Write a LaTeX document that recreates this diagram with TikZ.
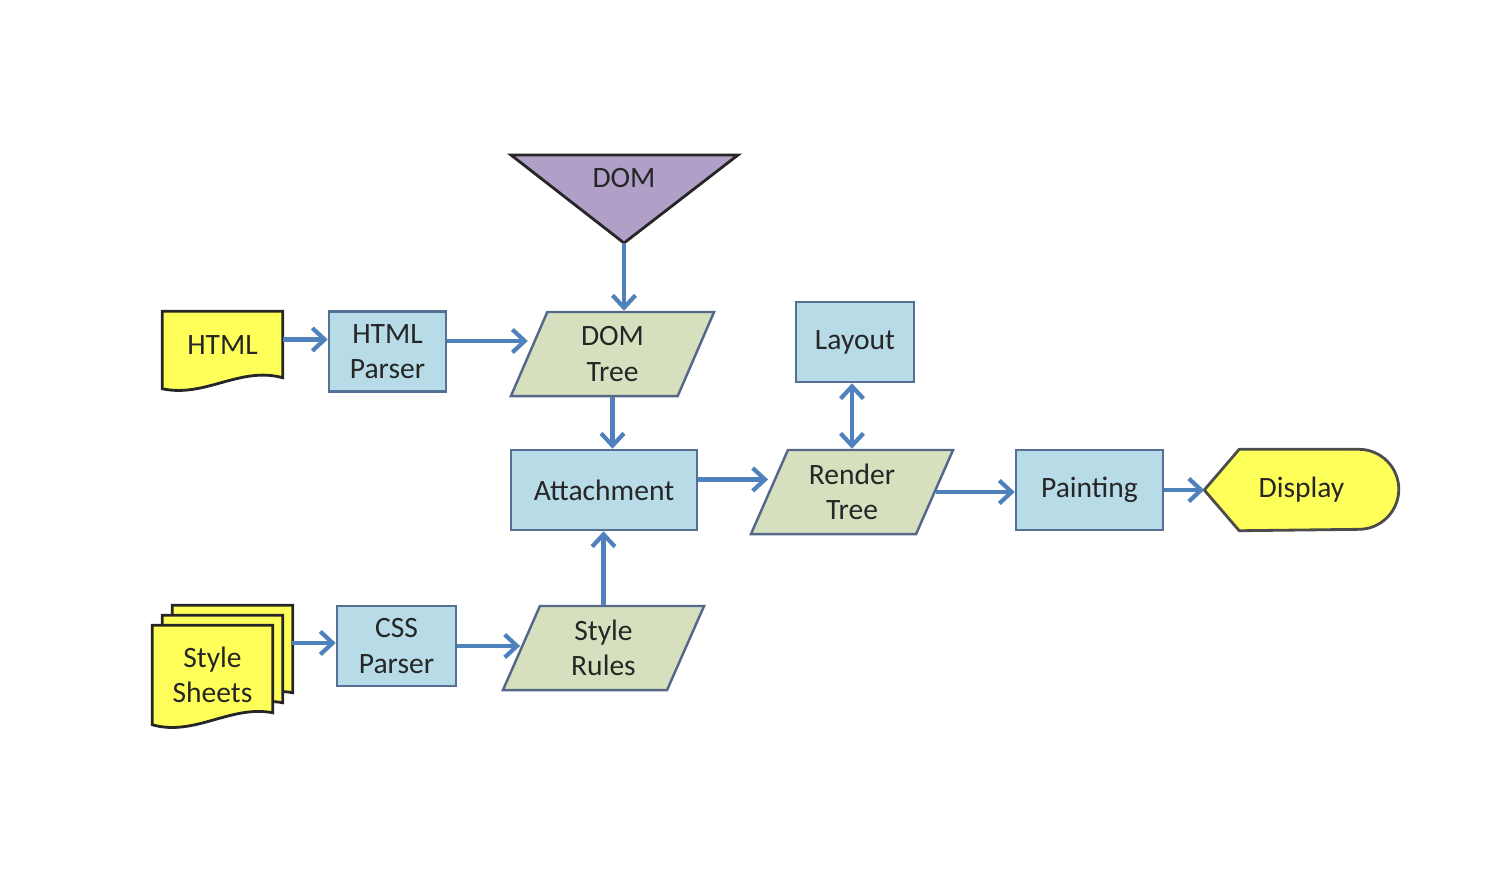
\documentclass[tikz,border=0pt]{standalone}
\usepackage{fontspec}
\setmainfont{Carlito}
\usetikzlibrary{shapes, arrows.meta, positioning, calc}
\definecolor{flowblue}{RGB}{79,129,189}
\definecolor{procfill}{RGB}{183,219,231}
\definecolor{procline}{RGB}{84,112,148}
\definecolor{datafill}{RGB}{215,224,190}
\definecolor{dataline}{RGB}{86,104,138}
\definecolor{docfill}{RGB}{255,255,90}
\definecolor{domfill}{RGB}{176,160,200}

\begin{document}
\begin{tikzpicture}[x=0.01cm, y=-0.01cm,
  every node/.style={font=\fontsize{8.4}{10}\selectfont, align=center, text=black!85},
  procbox/.style={draw=procline, fill=procfill, line width=0.7pt, minimum width=1.17cm, minimum height=0.8cm},
  databox/.style={trapezium, trapezium left angle=65, trapezium right angle=115, trapezium stretches body,
    draw=dataline, fill=datafill, line width=0.7pt, minimum width=2cm, minimum height=0.84cm},
  docline/.style={draw=black!85, fill=docfill, line width=0.8pt},
  >={Straight Barb[length=3.5pt, width=6.5pt]},
  flow/.style={draw=flowblue, line width=1.2pt, ->}]
  \useasboundingbox (0,0) rectangle (1502,890);

  % DOM triangle
  \coordinate (domtip) at (624,243);
  \draw[fill=domfill, draw=black!85, line width=0.8pt] (511,155) -- (738,155) -- (domtip) -- cycle;
  \node (dom) at (624,178) {DOM};

  % documents
  \node[minimum width=1.19cm, minimum height=0.76cm] (html) at (222.5,350) {};
  \draw[docline] (html.north west) -- (html.north east) -- ($(html.south east)+(0,-11)$)
    .. controls (240,366) and (205,398) .. (html.south west) -- cycle;
  \node at ([yshift=1.4pt]html) {HTML};

  \node[minimum width=1.19cm, minimum height=0.98cm] (sheets) at (212.5,675) {};
  \foreach \d in {20,10,0}
    \draw[docline] ($(sheets.north west)+(\d,-\d)$) -- ($(sheets.north east)+(\d,-\d)$)
      -- ($(sheets.south east)+(\d,-\d-12)$)
      .. controls ($(sheets.south)+(\d+18,-\d-20)$) and ($(sheets.south)+(\d-18,-\d+12)$) ..
      ($(sheets.south west)+(\d,-\d)$) -- cycle;
  \node at (sheets) {Style\\Sheets};
  \coordinate (sheetsout) at (292,643);

  % process boxes
  \node[procbox] (htmlparser) at (387.5,351.5) {HTML\\Parser};
  \node[procbox, minimum width=1.19cm] (cssparser) at (396.5,646) {CSS\\Parser};
  \node[procbox, minimum width=1.86cm] (attach) at (604,490) {Attachment};
  \node[procbox, minimum width=1.18cm] (layout) at (855,342) {Layout};
  \node[procbox, minimum width=1.47cm] (painting) at (1089.5,490) {Painting};

  % data
  \node[databox, minimum width=2.03cm] (domtree) at (612.5,354) {DOM\\Tree};
  \node[databox, minimum width=2.02cm] (rendertree) at (852,492) {Render\\Tree};
  \node[databox, minimum width=2.01cm] (stylerules) at (603.5,648) {Style\\Rules};

  % display
  \node[minimum width=1.93cm, minimum height=0.8cm] (display) at (1301.5,490) {};
  \draw[docline, draw=black!70] (display.west) -- ($(display.north west)+(35,0)$)
    -- ($(display.north east)+(-40,0)$) arc[start angle=90, end angle=-90, radius=0.4cm]
    -- ($(display.south west)+(35,0)$) -- cycle;
  \node at (display) {Display};

  % flows
  \draw[flow] ([yshift=3pt]html.east) -- ([yshift=3pt]html.east -| htmlparser.west);
  \draw[flow] ([yshift=3pt]htmlparser.east) -- ([yshift=3pt]htmlparser.east -| domtree.west);
  \draw[flow] (domtip) -- (domtip |- domtree.north);
  \draw[flow] (domtree.south) -- (domtree.south |- attach.north);
  \draw[flow] (sheetsout) -- (sheetsout -| cssparser.west);
  \draw[flow] (cssparser.east) -- (cssparser.east -| stylerules.west);
  \draw[flow] (stylerules.north) -- (stylerules.north |- attach.south);
  \draw[flow] ([yshift=3pt]attach.east) -- ([yshift=3pt]attach.east -| rendertree.west);
  \draw[flow, <->] (rendertree.north) -- (rendertree.north |- layout.south);
  \draw[flow] (rendertree.east) -- (rendertree.east -| painting.west);
  \draw[flow] (painting.east) -- (display.west);
\end{tikzpicture}
\end{document}
